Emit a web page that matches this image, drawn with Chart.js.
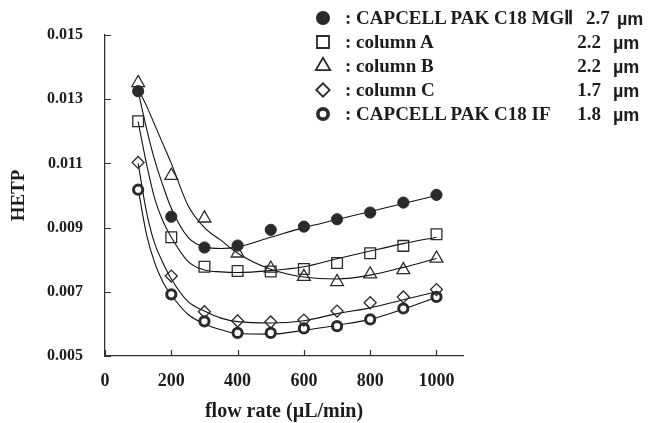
<!DOCTYPE html>
<html>
<head>
<meta charset="utf-8">
<script src="https://cdn.jsdelivr.net/npm/chart.js@4.4.1/dist/chart.umd.min.js"></script>
<style>
  html, body { margin: 0; padding: 0; background: #fff; }
  #wrap { position: relative; width: 649px; height: 423px; }
  #legend { position: absolute; left: 0; top: 0; width: 649px; height: 130px; pointer-events: none;
            font-family: "Liberation Serif", "Times New Roman", serif; font-weight: bold; font-size: 19px; color: #1c1c1c; }
  #legend span { position: absolute; white-space: nowrap; line-height: 20px; }
  #legend .um { font-family: "Liberation Sans", Arial, sans-serif; font-size: 18px; }
</style>
</head>
<body>
<div id="wrap">
  <canvas id="c" width="649" height="423"></canvas>
  <div id="legend"></div>
</div>
<script>
const flowRates = [100, 200, 300, 400, 500, 600, 700, 800, 900, 1000];
const mgII = [0.01325, 0.00934, 0.00838, 0.00844, 0.00893, 0.00903, 0.00926, 0.00947, 0.00978, 0.01002];
const colA = [0.01231, 0.00870, 0.00778, 0.00765, 0.00763, 0.00771, 0.00790, 0.00820, 0.00843, 0.00879];
const colB = [0.01351, 0.01062, 0.00929, 0.00820, 0.00773, 0.00747, 0.00731, 0.00755, 0.00768, 0.00804];
const colC = [0.01103, 0.00749, 0.00638, 0.00609, 0.00606, 0.00612, 0.00640, 0.00666, 0.00684, 0.00707];
const capIF = [0.01018, 0.00692, 0.00608, 0.00572, 0.00572, 0.00586, 0.00593, 0.00614, 0.00648, 0.00684];

// fitted curves, sampled from the drawn lines
const fitX = [100, 125, 150, 175, 200, 250, 300, 350, 400, 500, 600, 700, 800, 900, 1000];
const fitMgII = [0.01325, 0.0121, 0.0111, 0.0103, 0.0096, 0.0087, 0.0084, 0.00835, 0.0084, 0.0087, 0.0090, 0.00925, 0.0095, 0.00975, 0.0100];
const fitA = [0.0123, 0.0110, 0.0099, 0.0092, 0.0087, 0.00795, 0.00768, 0.00762, 0.0076, 0.00766, 0.00778, 0.00803, 0.00827, 0.0085, 0.0087];
const fitB = [0.0133, 0.0128, 0.0122, 0.0116, 0.0110, 0.0097, 0.0090, 0.0086, 0.0082, 0.0077, 0.00746, 0.0074, 0.00752, 0.00776, 0.00804];
const fitC = [0.0110, 0.0095, 0.0085, 0.0079, 0.0074, 0.0067, 0.0064, 0.00618, 0.00607, 0.00603, 0.0061, 0.00632, 0.0065, 0.00675, 0.0070];
const fitIF = [0.0102, 0.0088, 0.0079, 0.0073, 0.0069, 0.0063, 0.0060, 0.00582, 0.0057, 0.00568, 0.0058, 0.00596, 0.00614, 0.00646, 0.00683];

const xTicks = [0, 200, 400, 600, 800, 1000];
const yTicks = [0.005, 0.007, 0.009, 0.011, 0.013, 0.015];

const seriesNames = ["CAPCELL PAK C18 MG\u2161", "column A", "column B", "column C", "CAPCELL PAK C18 IF"];
const particleSizes = ["2.7", "2.2", "2.2", "1.7", "1.8"];

const INK = "#2a2a2a";
const STYLES = [
  { pointStyle: "circle", radius: 5.6, borderWidth: 1, backgroundColor: INK },
  { pointStyle: "rect", radius: 7.6, borderWidth: 1.3, backgroundColor: "rgba(255,255,255,0)" },
  { pointStyle: "triangle", radius: 7.4, borderWidth: 1.3, backgroundColor: "rgba(255,255,255,0)" },
  { pointStyle: "rectRot", radius: 6, borderWidth: 1.3, backgroundColor: "rgba(255,255,255,0)" },
  { pointStyle: "circle", radius: 4.6, borderWidth: 3, backgroundColor: "#fff" },
];

const pts = (ys, xs) => ys.map((v, i) => ({ x: xs[i], y: v }));
const marks = [mgII, colA, colB, colC, capIF];
const fits = [fitMgII, fitA, fitB, fitC, fitIF];

const datasets = [];
fits.forEach((f, i) => datasets.push({
  label: seriesNames[i] + " fit", data: pts(f, fitX), showLine: true, borderColor: "#111", borderWidth: 1.1,
  pointRadius: 0, cubicInterpolationMode: "monotone", fill: false, order: 2,
}));
marks.forEach((m, i) => datasets.push({
  label: seriesNames[i], data: pts(m, flowRates), showLine: false, order: 1,
  pointStyle: STYLES[i].pointStyle, pointRadius: STYLES[i].radius, pointBorderWidth: STYLES[i].borderWidth,
  pointBackgroundColor: STYLES[i].backgroundColor, pointBorderColor: INK,
}));

const legendRows = [18, 42, 66, 90, 114];

// tick marks point into the plot, like the original; plus legend symbols
const inwardTicks = {
  id: "inwardTicks",
  afterDraw(chart) {
    const { ctx, chartArea: a, scales: { x, y } } = chart;
    ctx.save();
    ctx.strokeStyle = "#333"; ctx.lineWidth = 1.2;
    ctx.beginPath();
    x.ticks.forEach((t) => { const px = Math.round(x.getPixelForValue(t.value)) + 0.5; ctx.moveTo(px, a.bottom); ctx.lineTo(px, a.bottom - 6); });
    y.ticks.forEach((t) => { const py = Math.round(y.getPixelForValue(t.value)) + 0.5; ctx.moveTo(a.left, py); ctx.lineTo(a.left + 6, py); });
    ctx.stroke();
    STYLES.forEach((s, i) => {
      const bw = i === 4 ? 3.6 : s.borderWidth + 0.5;
      ctx.fillStyle = s.backgroundColor; ctx.strokeStyle = INK; ctx.lineWidth = bw;
      Chart.helpers.drawPoint(ctx, { pointStyle: s.pointStyle, radius: s.radius * 1.12, borderWidth: bw, rotation: 0 }, 323, legendRows[i]);
    });
    ctx.restore();
  },
};

const serif = "'Liberation Serif', 'Times New Roman', serif";
new Chart(document.getElementById("c"), {
  type: "scatter",
  data: { datasets },
  options: {
    responsive: false, animation: false,
    layout: { padding: { left: 0, right: 186, top: 35, bottom: 0 } },
    plugins: { legend: { display: false }, tooltip: { enabled: false } },
    scales: {
      x: {
        type: "linear", min: 0, max: 1080,
        afterBuildTicks: (s) => { s.ticks = xTicks.map((v) => ({ value: v })); },
        afterFit: (s) => { s.height = 67; },
        grid: { display: false, drawTicks: false },
        border: { display: true, color: "#333", width: 1.3 },
        ticks: { color: "#1c1c1c", padding: 15, maxRotation: 0, callback: (v) => String(v), font: { family: serif, weight: "bold", size: 18 } },
        title: { display: true, text: "flow rate (\u00b5L/min)", color: "#1c1c1c", padding: { top: 0, bottom: 0 }, font: { family: serif, weight: "bold", size: 20, lineHeight: 1.1 } },
      },
      y: {
        type: "linear", min: 0.005, max: 0.015,
        afterBuildTicks: (s) => { s.ticks = yTicks.map((v) => ({ value: v })); },
        afterFit: (s) => { s.width = 105; },
        grid: { display: false, drawTicks: false },
        border: { display: true, color: "#333", width: 1.3 },
        ticks: { color: "#1c1c1c", padding: 22, callback: (v) => Number(v).toFixed(3), font: { family: serif, weight: "bold", size: 16 } },
        title: { display: true, text: "HETP", color: "#1c1c1c", padding: { top: 9, bottom: 0 }, font: { family: serif, weight: "bold", size: 19, lineHeight: 1.1 } },
      },
    },
  },
  plugins: [inwardTicks],
});

// legend text
const legend = document.getElementById("legend");
seriesNames.forEach((name, i) => {
  const top = legendRows[i] - 10;
  const lab = document.createElement("span");
  lab.textContent = ": " + name;
  lab.style.left = "345px"; lab.style.top = top + "px";
  legend.appendChild(lab);
  const num = document.createElement("span");
  num.textContent = particleSizes[i];
  num.style.top = top + "px";
  if (i === 0) num.style.left = "586px"; else num.style.right = (649 - 601) + "px";
  legend.appendChild(num);
  const um = document.createElement("span");
  um.className = "um"; um.textContent = "\u00b5m";
  um.style.top = (top + 1) + "px"; um.style.left = (i === 0 ? 617 : 613) + "px";
  legend.appendChild(um);
});
</script>
</body>
</html>
